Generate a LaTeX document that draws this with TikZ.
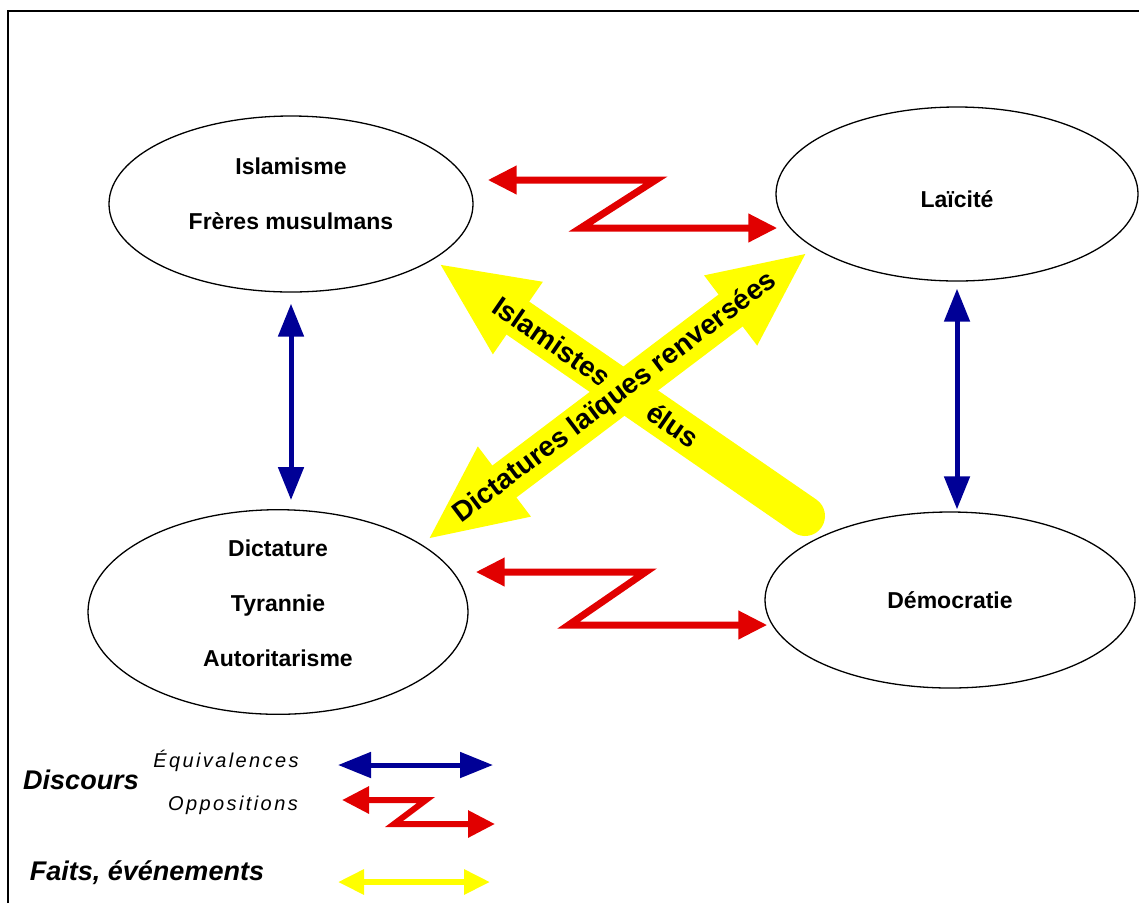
\documentclass[tikz,border=0pt]{standalone}
\usepackage{fontspec}
\setmainfont{Liberation Sans}
\usetikzlibrary{arrows.meta,shapes.geometric}
\pgfdeclarelayer{background}
\pgfsetlayers{background,main}
\definecolor{equivblue}{RGB}{0,0,150}
\definecolor{opposred}{RGB}{225,0,0}
\definecolor{faityellow}{RGB}{255,255,0}
\tikzstyle{concept}=[draw, ellipse, line width=1.3pt, inner sep=0pt, align=center,
  font=\fontsize{23}{55}\selectfont\bfseries]
\tikzstyle{equiv}=[draw, line width=5pt, color=equivblue,
  >={Triangle[length=33pt,width=25pt]}, <->]
\tikzstyle{oppos}=[draw, line width=7pt, color=opposred, line join=miter,
  >={Triangle[length=29pt,width=27pt]}, <->]
\tikzstyle{fait}=[draw, line width=40pt, color=faityellow,
  >={Triangle[length=97pt,width=80pt]}]
\tikzstyle{arrowtext}=[sloped, text=black, inner sep=0pt,
  font=\fontsize{28}{28}\selectfont\bfseries]
\tikzstyle{legbig}=[inner sep=0pt, font=\fontsize{27}{30}\selectfont\bfseries\itshape]
\tikzstyle{legsmall}=[inner sep=0pt,
  font=\fontsize{20}{24}\selectfont\itshape\addfontfeatures{LetterSpace=12}]

\begin{document}
\begin{tikzpicture}[x=1pt,y=-1pt]
  \useasboundingbox (0,0) rectangle (1139,903);
  \draw [line width=2.5pt] (8,903) -- (8,11) -- (1139,11);

  % concepts area
  \path (291,204) node (ISLAMISME) [concept, minimum width=364pt, minimum height=176pt,
    text depth=21pt] {Islamisme\\Frères musulmans};
  \path (ISLAMISME.center)+(666,-10) node (LAICITE) [concept, minimum width=362pt,
    minimum height=174pt, text height=28pt] {Laïcité};
  \path (ISLAMISME.center)+(-13,408) node (DICTATURE) [concept, minimum width=380pt,
    minimum height=182pt, text depth=18pt] {Dictature\\Tyrannie\\Autoritarisme};
  \path (DICTATURE.center)+(672,-12) node (DEMOCRATIE) [concept, minimum width=370pt,
    minimum height=176pt] {Démocratie};

  % legend area
  \path (81,780) node (DISCOURS) [legbig] {Discours};
  \path (226,761) node (EQUIV) [legsmall] {Équivalences};
  \path (233,805) node (OPPOS) [legsmall] {Oppositions};
  \path (147,873) node (FAITS) [legbig] {Faits, événements};
  \path (338,765) coordinate (EQUIVA) (493,765) coordinate (EQUIVB);
  \path (342,800) coordinate (OPPOSA) (495,824) coordinate (OPPOSB);
  \path (338,882) coordinate (FAITSA) (490,882) coordinate (FAITSB);

  % Draw arrows between concepts

  %equivalences
  \path [equiv, shorten <=11pt, shorten >=9pt] (ISLAMISME.south) -- (ISLAMISME.south |- DICTATURE.north);
  \path [equiv, shorten <=7pt, shorten >=2pt] (LAICITE.south) -- (LAICITE.south |- DEMOCRATIE.north);

  %oppositions
  \path [oppos] ([shift={(14,-24)}]ISLAMISME.east) -- ++(168,0) -- ++(-75,48)
    -- ([shift={(2,34)}]LAICITE.west);
  \path [oppos] ([shift={(7,-40)}]DICTATURE.east) -- ++(170,0) -- ++(-77,53)
    -- ([shift={(3,25)}]DEMOCRATIE.west);

  %faits
  \begin{pgfonlayer}{background}
    \path [fait, line cap=round, ->] ([shift={(-145,-84)}]DEMOCRATIE.center)
      -- node [pos=0.36, arrowtext] {élus}
         node [pos=0.69, arrowtext] {Islamistes} ([shift={(147,59)}]ISLAMISME.center);
    \path [fait, <->] ([shift={(149,-72)}]DICTATURE.center)
      -- node [pos=0.494, arrowtext] {Dictatures laïques renversées} ([shift={(-149,58)}]LAICITE.center);
  \end{pgfonlayer}

  %legend arrows
  \path [equiv] (EQUIVA) -- (EQUIVB);
  \path [oppos, line width=6pt, >={Triangle[length=27pt,width=26pt]}] (OPPOSA) -- ++(84,0) -- ++(-32,24) -- (OPPOSB);
  \path [fait, line width=6pt, >={Triangle[length=26pt,width=24pt]}, <->] (FAITSA) -- (FAITSB);

\end{tikzpicture}
\end{document}
